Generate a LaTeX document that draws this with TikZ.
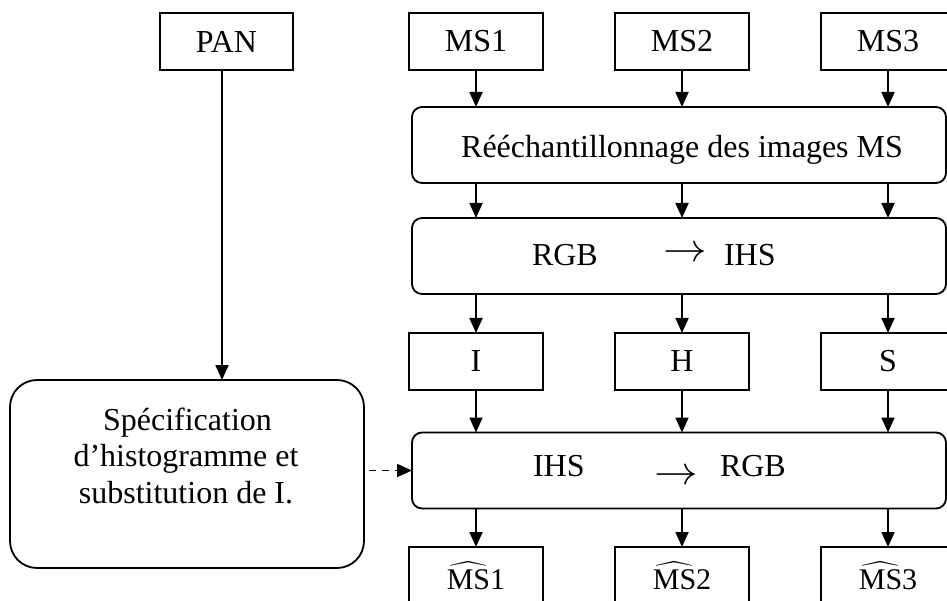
\documentclass[tikz,border=0pt]{standalone}
\usepackage{fontspec}
\setmainfont{Liberation Serif}
\usepackage{amsmath}
\usepackage{graphicx}
\usetikzlibrary{arrows.meta}
\begin{document}
\begin{tikzpicture}[x=1pt,y=-1pt,
  every node/.style={inner sep=0pt, outer sep=0pt},
  lbl/.style={font=\fontsize{32}{38}\selectfont},
  srcbox/.style={draw, line width=1.8pt, minimum width=134pt, minimum height=57pt, lbl},
  stagebox/.style={draw, line width=1.8pt, rounded corners=10pt, minimum width=534pt, minimum height=76pt},
  specbox/.style={draw, line width=1.8pt, rounded corners=27pt, minimum width=354pt, minimum height=188pt},
  arr/.style={line width=1.8pt, -{Triangle[length=15pt,width=13pt]}},
  dasharr/.style={arr, dash pattern=on 7pt off 6pt},
  bigarrow/.style={lbl},
]
\useasboundingbox (0,0) rectangle (947,601);
\fill[white] (0,0) rectangle (947,601);
\clip (0,0) rectangle (947,601);

% input bands
\node[srcbox, minimum width=133pt] (pan) at (226.5,41.5) {PAN};
\node[srcbox] (ms1) at (476,41.5) {MS1};
\node[srcbox] (ms2) at (682,41.5) {MS2};
\node[srcbox] (ms3) at (888,41.5) {MS3};

% resampling stage
\node[stagebox] (resample) at (679,145) {};
\node[lbl, anchor=base] (resampletxt) at (682,158) {Rééchantillonnage des images MS};

% forward transform
\node[stagebox] (fwd) at (679,256) {};
\node[lbl, anchor=base west] (fwdA) at (532,266) {RGB};
\node[bigarrow] (fwdarrow) at (685.5,254) {\scalebox{1.75}[1.6]{$\rightarrow$}};
\node[lbl, anchor=base west] (fwdB) at (724,266) {IHS};

% components
\node[srcbox] (chI) at (476,361.5) {I};
\node[srcbox] (chH) at (682,361.5) {H};
\node[srcbox] (chS) at (888,361.5) {S};

% inverse transform
\node[stagebox] (inv) at (679,470.5) {};
\node[lbl, anchor=base west] (invA) at (533,476) {IHS};
\node[bigarrow] (invarrow) at (676.5,477) {\scalebox{1.75}[1.6]{$\rightarrow$}};
\node[lbl, anchor=base west] (invB) at (720,476) {RGB};

% fused outputs
\node[srcbox] (out1) at (476,575.5) {\fontsize{30}{36}\selectfont$\widehat{\mbox{MS}}$1};
\node[srcbox] (out2) at (682,575.5) {\fontsize{30}{36}\selectfont$\widehat{\mbox{MS}}$2};
\node[srcbox] (out3) at (888,575.5) {\fontsize{30}{36}\selectfont$\widehat{\mbox{MS}}$3};

% histogram matching of the panchromatic band
\node[specbox] (spec) at (187,474) {};
\node[lbl, anchor=base] (spec1) at (187.5,430) {Spécification};
\node[lbl, anchor=base] (spec2) at (186,466.5) {d’histogramme et};
\node[lbl, anchor=base] (spec3) at (186,503) {substitution de I.};

% connectors
\draw[arr] ([xshift=-4.5pt]pan.south) -- ([xshift=-4.5pt]pan.south |- spec.north);
\foreach \a/\b/\c in {ms1/chI/out1, ms2/chH/out2, ms3/chS/out3}{
  \draw[arr] (\a.south) -- (\a.south |- resample.north);
  \draw[arr] (\a.south |- resample.south) -- (\a.south |- fwd.north);
  \draw[arr] (\b.north |- fwd.south) -- (\b.north);
  \draw[arr] (\b.south) -- (\b.south |- inv.north);
  \draw[arr] (\b.south |- inv.south) -- (\c.north);
}
\draw[dasharr, shorten <=5pt] (spec.east |- inv.west) -- (inv.west);
\end{tikzpicture}
\end{document}
